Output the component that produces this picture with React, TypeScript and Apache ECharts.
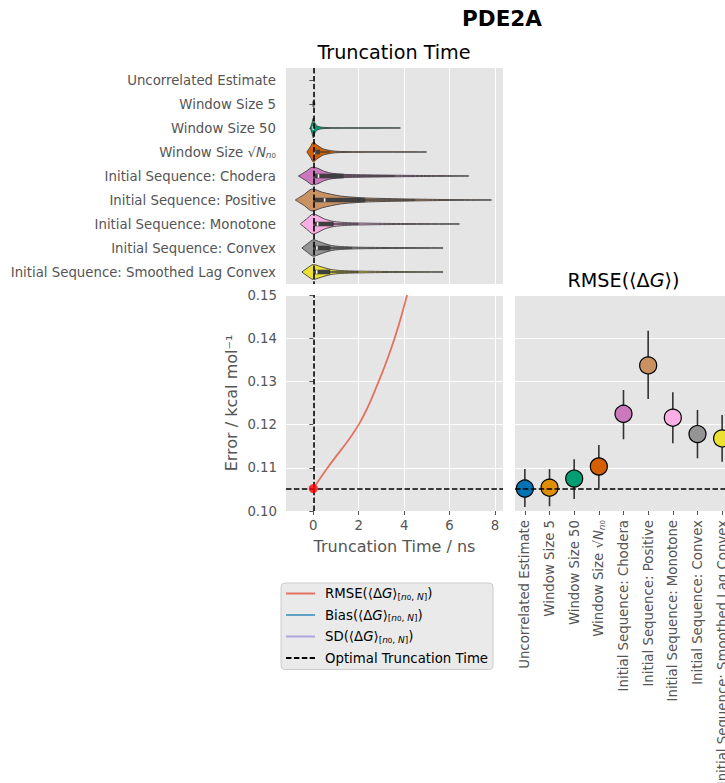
import React, { useEffect, useRef } from "react";
import * as echarts from "echarts";

// Estimators compared in every panel (top to bottom / left to right)
const CATEGORIES = [
  "Uncorrelated Estimate",
  "Window Size 5",
  "Window Size 50",
  "Window Size √Nn0",
  "Initial Sequence: Chodera",
  "Initial Sequence: Positive",
  "Initial Sequence: Monotone",
  "Initial Sequence: Convex",
  "Initial Sequence: Smoothed Lag Convex",
];

const PALETTE = [
  "#0173B2",
  "#DE8F05",
  "#029E73",
  "#D55E00",
  "#CC78BC",
  "#CA9161",
  "#FBAFE4",
  "#949494",
  "#ECE133",
];

// Violin density profiles of the chosen truncation time: [time / ns, relative density]
const VIOLIN_PROFILES: number[][][] = [
  [],
  [[-0.02, 0], [0, 0.28], [0.08, 0]],
  [[-0.13, 0], [-0.05, 0.5], [0, 0.9], [0.06, 0.5], [0.16, 0.2], [0.38, 0.07], [1.0, 0.02], [3.83, 0.01]],
  [[-0.28, 0], [-0.12, 0.5], [0, 0.9], [0.15, 0.65], [0.45, 0.27], [0.97, 0.07], [2.0, 0.025], [4.98, 0.01]],
  [[-0.65, 0], [-0.3, 0.45], [-0.06, 0.79], [0.2, 0.7], [0.45, 0.45], [0.75, 0.27], [1.3, 0.15], [2.5, 0.1], [3.6, 0.07], [5.0, 0.04], [6.84, 0.01]],
  [[-0.79, 0], [-0.4, 0.5], [-0.06, 1.0], [0.4, 0.7], [1.19, 0.36], [1.92, 0.23], [2.3, 0.18], [3.5, 0.12], [4.5, 0.08], [6.0, 0.04], [7.84, 0.01]],
  [[-0.57, 0], [-0.3, 0.45], [0, 0.91], [0.5, 0.45], [0.9, 0.23], [1.5, 0.12], [2.5, 0.07], [4.0, 0.04], [6.43, 0.01]],
  [[-0.5, 0], [-0.25, 0.4], [0, 0.75], [0.3, 0.55], [0.75, 0.25], [1.2, 0.13], [2.0, 0.07], [3.5, 0.04], [5.71, 0.01]],
  [[-0.5, 0], [-0.25, 0.38], [0, 0.68], [0.3, 0.5], [0.75, 0.24], [1.2, 0.13], [2.0, 0.08], [3.5, 0.04], [5.71, 0.01]],
];

// Inner box of each violin: [q1, median, q3, upper whisker] in ns
const VIOLIN_BOXES: number[][] = [
  [0, 0, 0, 0],
  [0, 0, 0, 0],
  [0, 0, 0.03, 0.1],
  [0, 0.05, 0.3, 0.75],
  [0, 0.23, 1.34, 3.6],
  [0, 0.5, 2.29, 4.5],
  [0, 0.19, 0.9, 2.0],
  [0, 0.16, 0.75, 1.7],
  [0, 0.15, 0.75, 2.0],
];

// RMSE of <ΔG> as a function of truncation time
const TRUNCATION_TIMES = [0, 0.63, 2.0, 2.88, 3.58, 4.13];
const CURVE_RMSE = [0.1052, 0.11, 0.12, 0.13, 0.14, 0.15];

const OPTIMAL_TIME = 0;
const OPTIMAL_RMSE = 0.1052;

// RMSE per estimator with its uncertainty interval (kcal/mol)
const RMSE_VALUES = [0.1052, 0.1054, 0.1075, 0.1103, 0.1225, 0.1337, 0.1216, 0.1178, 0.1168];
const RMSE_LOW = [0.1009, 0.1011, 0.1028, 0.1053, 0.1166, 0.1259, 0.1157, 0.1122, 0.1114];
const RMSE_HIGH = [0.1097, 0.1097, 0.112, 0.1153, 0.128, 0.1417, 0.1275, 0.1234, 0.1222];

const TIME_TICKS = [0, 2, 4, 6, 8];
const ERROR_TICKS_MIN = 0.1;
const ERROR_TICKS_MAX = 0.15;

const FONT = "DejaVu Sans";
const TICK_COLOR = "#555555";
const PANEL_BG = "#E5E5E5";
const TICK_SIZE = 13.3;
const LABEL_SIZE = 16;
const TITLE_SIZE = 19.2;

const LEGEND_NAMES = ["RMSE", "Bias", "SD", "Optimal Truncation Time"];

const SQRT_RICH = "{a|Window Size √}{n|N}{s|n}{z|0}";

const categoryLabel = (name: string) =>
  name.startsWith("Window Size √") ? SQRT_RICH : name;

const labelRich = {
  a: { fontSize: TICK_SIZE, color: TICK_COLOR, fontFamily: FONT },
  n: { fontSize: TICK_SIZE, color: TICK_COLOR, fontFamily: FONT, fontStyle: "italic" },
  s: { fontSize: 9, color: TICK_COLOR, fontFamily: FONT, fontStyle: "italic", verticalAlign: "bottom", padding: [6, 0, 0, 0] },
  z: { fontSize: 7, color: TICK_COLOR, fontFamily: FONT, verticalAlign: "bottom", padding: [8, 0, 0, 0] },
};

const dashed = { color: "#000", type: [5.5, 2.4], width: 1.6 };

const markLineBase = {
  silent: true,
  precision: 6,
  symbol: ["none", "none"],
  label: { show: false },
  emphasis: { disabled: true },
  lineStyle: dashed,
};

const panel = (left: number, top: number) => ({
  left,
  top,
  width: 217,
  height: 216,
  show: true,
  backgroundColor: PANEL_BG,
  borderWidth: 0,
  containLabel: false,
  outerBoundsMode: "none",
});

export default function App() {
  const ref = useRef<HTMLDivElement>(null);

  useEffect(() => {
    if (!ref.current) return;
    const chart = echarts.init(ref.current, undefined, { renderer: "svg" });

    const legendText = (name: string) => {
      if (name === "Optimal Truncation Time") return `{a|${name}}`;
      return `{a|${name}(⟨Δ}{i|G}{a|⟩}{s|[}{si|n}{z|0}{s|, }{si|N}{s|]}{a|)}`;
    };

    const option: any = {
      animation: false,
      textStyle: { fontFamily: FONT },
      grid: [panel(286, 68), panel(286, 295), panel(515, 295)],
      xAxis: [
        {
          gridIndex: 0,
          type: "value",
          min: -1.2,
          max: 8.35,
          axisLine: { show: false },
          axisTick: { show: false, customValues: TIME_TICKS },
          axisLabel: { show: false, customValues: TIME_TICKS },
          splitLine: { show: true, lineStyle: { color: "#fff", width: 1 } },
        },
        {
          gridIndex: 1,
          type: "value",
          min: -1.2,
          max: 8.35,
          name: "Truncation Time / ns",
          nameLocation: "middle",
          nameGap: 27,
          nameTextStyle: { fontSize: LABEL_SIZE, color: TICK_COLOR, fontFamily: FONT },
          axisLine: { show: false },
          axisTick: { show: true, length: 4, customValues: TIME_TICKS, lineStyle: { color: TICK_COLOR } },
          axisLabel: { customValues: TIME_TICKS, fontSize: TICK_SIZE, color: TICK_COLOR, margin: 8 },
          splitLine: { show: true, lineStyle: { color: "#fff", width: 1 } },
        },
        {
          gridIndex: 2,
          type: "value",
          min: -0.4,
          max: 8.4,
          axisLine: { show: false },
          axisTick: {
            show: true,
            length: 4,
            customValues: CATEGORIES.map((_, i) => i),
            lineStyle: { color: TICK_COLOR },
          },
          axisLabel: {
            customValues: CATEGORIES.map((_, i) => i),
            rotate: 90,
            margin: 9,
            fontSize: TICK_SIZE,
            color: TICK_COLOR,
            formatter: (v: number) => categoryLabel(CATEGORIES[Math.round(v)]),
            rich: labelRich,
          },
          splitLine: { show: false },
        },
      ],
      yAxis: [
        {
          gridIndex: 0,
          type: "category",
          data: CATEGORIES,
          inverse: true,
          axisLine: { show: false },
          axisTick: { show: true, length: 4, alignWithLabel: true, lineStyle: { color: TICK_COLOR } },
          axisLabel: {
            fontSize: TICK_SIZE,
            color: TICK_COLOR,
            margin: 10,
            formatter: (v: string) => categoryLabel(v),
            rich: labelRich,
          },
          splitLine: { show: false },
        },
        {
          gridIndex: 1,
          type: "value",
          min: ERROR_TICKS_MIN,
          max: ERROR_TICKS_MAX,
          interval: 0.01,
          name: "Error / kcal mol⁻¹",
          nameLocation: "middle",
          nameGap: 47,
          nameTextStyle: { fontSize: LABEL_SIZE, color: TICK_COLOR, fontFamily: FONT },
          axisLine: { show: false },
          axisTick: { show: true, length: 4, lineStyle: { color: TICK_COLOR } },
          axisLabel: { fontSize: TICK_SIZE, color: TICK_COLOR, margin: 9, formatter: (v: number) => v.toFixed(2) },
          splitLine: { show: true, lineStyle: { color: "#fff", width: 1 } },
        },
        {
          gridIndex: 2,
          type: "value",
          min: ERROR_TICKS_MIN,
          max: ERROR_TICKS_MAX,
          interval: 0.01,
          axisLine: { show: false },
          axisTick: { show: false },
          axisLabel: { show: false },
          splitLine: { show: true, lineStyle: { color: "#fff", width: 1 } },
        },
      ],
      legend: {
        data: LEGEND_NAMES.map((n) => ({ name: n })),
        orient: "vertical",
        left: 281,
        top: 583,
        padding: [4, 5, 5, 4],
        itemGap: 7.5,
        itemWidth: 29,
        itemHeight: 14,
        backgroundColor: "#eaeaea",
        borderColor: "#cccccc",
        borderWidth: 1,
        borderRadius: 4,
        selectedMode: false,
        itemStyle: { opacity: 0 },
        formatter: legendText,
        textStyle: {
          fontSize: TICK_SIZE,
          color: "#000",
          padding: [0, 0, 0, 5],
          rich: {
            a: { fontSize: TICK_SIZE, color: "#000", fontFamily: FONT },
            i: { fontSize: TICK_SIZE, color: "#000", fontFamily: FONT, fontStyle: "italic" },
            s: { fontSize: 9, color: "#000", fontFamily: FONT, verticalAlign: "bottom", padding: [6, 0, 0, 0] },
            si: { fontSize: 9, color: "#000", fontFamily: FONT, fontStyle: "italic", verticalAlign: "bottom", padding: [6, 0, 0, 0] },
            z: { fontSize: 7, color: "#000", fontFamily: FONT, verticalAlign: "bottom", padding: [8, 0, 0, 0] },
          },
        },
      },
      graphic: [
        {
          type: "text",
          x: 502,
          y: 18,
          style: { text: "PDE2A", font: `bold 21.5px ${FONT}`, fill: "#000", textAlign: "center", textVerticalAlign: "middle" },
        },
        {
          type: "text",
          x: 394,
          y: 52,
          style: { text: "Truncation Time", font: `${TITLE_SIZE}px ${FONT}`, fill: "#000", textAlign: "center", textVerticalAlign: "middle" },
        },
        {
          type: "text",
          x: 623.5,
          y: 280,
          style: {
            text: "{a|RMSE(⟨Δ}{i|G}{a|⟩)}",
            fill: "#000",
            textAlign: "center",
            textVerticalAlign: "middle",
            rich: {
              a: { fontSize: TITLE_SIZE, fontFamily: FONT, fill: "#000", color: "#000" },
              i: { fontSize: TITLE_SIZE, fontFamily: FONT, fontStyle: "italic", fill: "#000", color: "#000" },
            },
          },
        },
      ],
      series: [
        {
          name: "violins",
          type: "custom",
          xAxisIndex: 0,
          yAxisIndex: 0,
          clip: true,
          data: CATEGORIES.map((_, i) => [0, i]),
          encode: { x: 0, y: 1 },
          renderItem: (params: any, api: any) => {
            const idx = api.value(1);
            const prof = VIOLIN_PROFILES[idx];
            const children: any[] = [];
            const band = Math.abs(api.size([0, 1])[1]);
            const half = band * 0.46;
            if (prof.length) {
              const top = prof.map(([t, d]) => {
                const p = api.coord([t, idx]);
                return [p[0], p[1] - d * half];
              });
              const bottom = prof
                .slice()
                .reverse()
                .map(([t, d]) => {
                  const p = api.coord([t, idx]);
                  return [p[0], p[1] + d * half];
                });
              children.push({
                type: "polygon",
                shape: { points: [...top, ...bottom], smooth: 0.25 },
                style: { fill: PALETTE[idx], stroke: "#3f3f3f", lineWidth: 0.9 },
              });
              const [q1, med, q3, wh] = VIOLIN_BOXES[idx];
              const p1 = api.coord([q1, idx]);
              const pm = api.coord([med, idx]);
              const p3 = api.coord([q3, idx]);
              const pw = api.coord([wh, idx]);
              if (wh > q1) {
                children.push({
                  type: "line",
                  shape: { x1: p1[0], y1: p1[1], x2: pw[0], y2: pw[1] },
                  style: { stroke: "#3f3f3f", lineWidth: 1.3 },
                });
              }
              if (q3 > q1) {
                children.push({
                  type: "rect",
                  shape: { x: p1[0], y: p1[1] - 2.3, width: p3[0] - p1[0], height: 4.6 },
                  style: { fill: "#3f3f3f" },
                });
                children.push({
                  type: "rect",
                  shape: { x: pm[0] - 0.8, y: pm[1] - 1.8, width: 1.6, height: 3.6 },
                  style: { fill: "#ffffff" },
                });
              }
            }
            return { type: "group", children };
          },
          z: 2,
        },
        {
          name: "optimal-top",
          type: "line",
          xAxisIndex: 0,
          yAxisIndex: 0,
          data: [],
          symbol: "none",
          z: 5,
          markLine: { ...markLineBase, data: [{ xAxis: OPTIMAL_TIME }] },
        },
        {
          name: "RMSE",
          type: "line",
          xAxisIndex: 1,
          yAxisIndex: 1,
          data: TRUNCATION_TIMES.map((t, i) => [t, CURVE_RMSE[i]]),
          smooth: 0.4,
          symbol: "none",
          color: "#E24A33",
          lineStyle: { color: "#E24A33", width: 1.8, opacity: 0.75 },
          z: 3,
        },
        {
          name: "Bias",
          type: "line",
          xAxisIndex: 1,
          yAxisIndex: 1,
          data: [],
          symbol: "none",
          color: "#348ABD",
          lineStyle: { color: "#348ABD", width: 1.8, opacity: 0.75 },
        },
        {
          name: "SD",
          type: "line",
          xAxisIndex: 1,
          yAxisIndex: 1,
          data: [],
          symbol: "none",
          color: "#988ED5",
          lineStyle: { color: "#988ED5", width: 1.8, opacity: 0.75 },
        },
        {
          name: "Optimal Truncation Time",
          type: "line",
          xAxisIndex: 1,
          yAxisIndex: 1,
          data: [],
          symbol: "none",
          color: "#000",
          lineStyle: dashed,
          z: 5,
          markLine: { ...markLineBase, data: [{ xAxis: OPTIMAL_TIME }, { yAxis: OPTIMAL_RMSE }] },
        },
        {
          name: "optimal-point",
          type: "scatter",
          xAxisIndex: 1,
          yAxisIndex: 1,
          data: [[OPTIMAL_TIME, OPTIMAL_RMSE]],
          symbolSize: 9,
          itemStyle: { color: "#ff0000", opacity: 0.8 },
          z: 6,
        },
        {
          name: "error-bars",
          type: "custom",
          xAxisIndex: 2,
          yAxisIndex: 2,
          data: CATEGORIES.map((_, i) => [i, RMSE_LOW[i], RMSE_HIGH[i]]),
          encode: { x: 0, y: [1, 2] },
          renderItem: (params: any, api: any) => {
            const i = api.value(0);
            const lo = api.coord([i, api.value(1)]);
            const hi = api.coord([i, api.value(2)]);
            return {
              type: "line",
              shape: { x1: lo[0], y1: lo[1], x2: hi[0], y2: hi[1] },
              style: { stroke: "#333333", lineWidth: 1.6 },
            };
          },
          z: 2,
        },
        {
          name: "rmse-points",
          type: "scatter",
          xAxisIndex: 2,
          yAxisIndex: 2,
          data: CATEGORIES.map((_, i) => ({
            value: [i, RMSE_VALUES[i]],
            itemStyle: { color: PALETTE[i] },
          })),
          symbolSize: 17,
          itemStyle: { borderColor: "#000", borderWidth: 1.2, opacity: 1 },
          z: 3,
        },
        {
          name: "optimal-right",
          type: "line",
          xAxisIndex: 2,
          yAxisIndex: 2,
          data: [],
          symbol: "none",
          z: 5,
          markLine: { ...markLineBase, data: [{ yAxis: OPTIMAL_RMSE }] },
        },
      ],
    };

    chart.setOption(option);
    return () => chart.dispose();
  }, []);

  return (
    <div
      ref={ref}
      style={{ position: "absolute", left: 0, top: 0, width: 725, height: 783, background: "#fff" }}
    />
  );
}
